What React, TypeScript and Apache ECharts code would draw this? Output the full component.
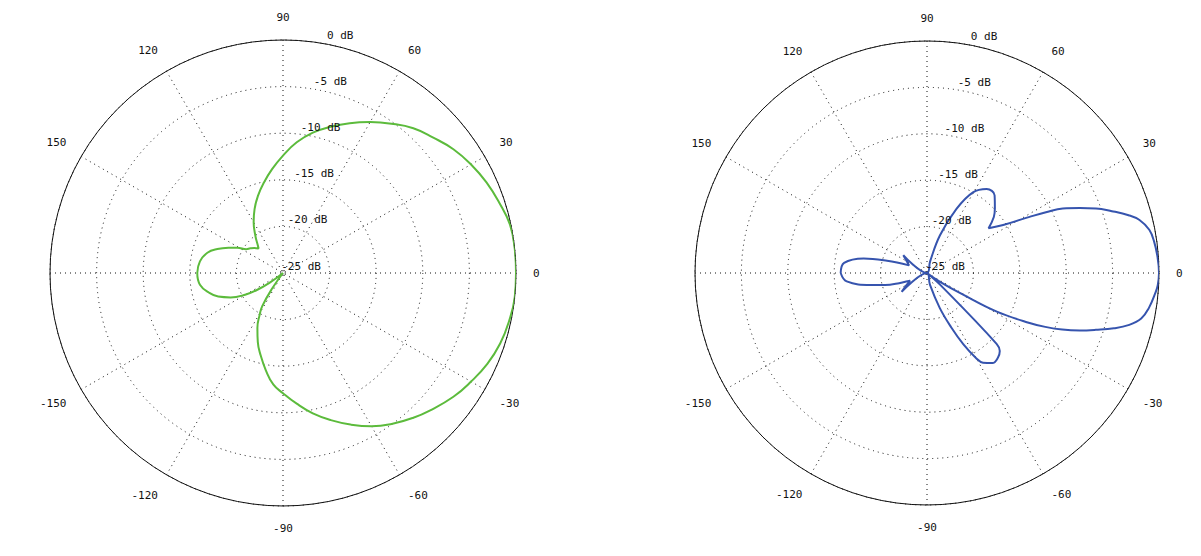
import React, { useEffect, useRef } from 'react';
import * as echarts from 'echarts';

// Radius rings (dB) and their labels
const ringValues = [-25, -20, -15, -10, -5, 0];
const ringLabels = ['-25 dB', '-20 dB', '-15 dB', '-10 dB', '-5 dB', '0 dB'];
const ringLabelAngle = 82;

// Left pattern (green): angle in degrees, gain in dB (clipped at -25)
const leftAngles = [
  -180, -172, -165, -160, -155, -150, -147, -144, -141, -135, -128, -125, -122, -119, -115, -110, -105, -100, -95, -90,
  -84, -78, -72, -66, -60, -54, -48, -43, -36, -30, -24, -18, -12, -6, 0,
  6, 12, 18, 24, 30, 36, 42, 48, 54, 60, 66, 72, 78, 84, 90,
  96, 102, 108, 114, 120, 127, 131, 135, 139, 143, 147, 151, 155, 160, 165, 172, 180,
];
const leftGain = [
  -15.8, -16.0, -16.8, -17.6, -18.8, -20.4, -21.6, -23.2, -25, -25, -25, -23.0, -20.8, -19.8, -18.5, -17.1, -15.8, -14.4, -13.0, -12.1,
  -10.9, -9.6, -8.4, -7.2, -6.0, -5.0, -4.1, -3.4, -2.4, -1.7, -1.0, -0.5, -0.2, 0, 0,
  0, -0.1, -0.6, -1.1, -1.7, -2.4, -3.3, -4.1, -5.2, -6.3, -7.4, -8.5, -9.6, -10.9, -12.4,
  -13.8, -15.1, -16.3, -17.5, -18.7, -20.1, -20.8, -21.3, -20.9, -20.6, -20.3, -19.4, -18.6, -17.5, -16.6, -16.0, -15.8,
];

// Right pattern (blue)
const rightAngles = [
  -180, -174, -168, -164, -160, -156, -150, -146, -143.5, -140, -130, -110, -90, -80, -76, -70, -66, -63, -60, -58,
  -54, -50, -47, -45.5, -42, -40, -37, -34, -31, -29, -26, -24.5, -22.7, -20.6, -18.6, -16.5, -14.4, -12, -9, -5, -3, 0,
  4, 8, 11, 14, 16, 18.5, 20.9, 23, 25.4, 27, 28.7, 32.2, 36, 40, 43.6, 49, 54.6, 60.3, 65.3, 71, 75, 80,
  100, 120, 140, 143, 150, 157, 163, 167, 173, 180,
];
const rightGain = [
  -15.7, -16.3, -18.8, -20.3, -21.8, -23.0, -22.5, -22.0, -21.6, -25, -25, -25, -25, -25, -23.7, -21.0, -18.6, -16.4, -14.4, -13.6,
  -13.0, -13.1, -13.5, -14.3, -23.0, -25, -25, -23.3, -20.4, -16.4, -12.7, -11.0, -9.2, -7.4, -5.8, -4.0, -2.5, -1.4, -0.8, -0.3, -0.1, 0,
  -0.1, -0.3, -0.6, -1.4, -2.4, -4.0, -5.5, -7.1, -8.8, -10.5, -12.4, -15.3, -16.8, -15.6, -14.9, -13.9, -13.9, -15.0, -17.4, -20.7, -23.7, -25,
  -25, -25, -25, -21.8, -22.5, -22.9, -20.5, -18.0, -16.0, -15.7,
];

const FONT = '"DejaVu Sans Mono", "Liberation Mono", monospace';
const TEXT = '#111';
const DOT = [1, 4];

function pairs(gain: number[], ang: number[]) {
  return gain.map((g, i) => [g, ang[i]]);
}

export default function App() {
  const ref = useRef<HTMLDivElement>(null);
  useEffect(() => {
    const chart = echarts.init(ref.current!, null, { renderer: 'svg' });
    const polars = [
      { center: [283, 273], radius: 233 },
      { center: [927, 273], radius: 232 },
    ];
    const angleAxis = polars.map((_, i) => ({
      polarIndex: i,
      type: 'value',
      min: -180,
      max: 180,
      interval: 30,
      startAngle: 180,
      clockwise: false,
      axisLine: { show: true, lineStyle: { color: '#111', width: 1 } },
      axisTick: { show: false },
      axisLabel: {
        margin: 17,
        color: TEXT,
        fontFamily: FONT,
        fontSize: 11,
        formatter: (v: number) => (v === -180 ? '' : String(v)),
      },
      splitLine: { show: true, lineStyle: { color: '#111', width: 1, type: DOT } },
    }));
    const radiusAxis = polars.map((_, i) => ({
      polarIndex: i,
      type: 'value',
      min: -25,
      max: 0,
      interval: 5,
      axisLine: { show: false },
      axisTick: { show: false },
      axisLabel: { show: false },
      splitLine: { show: true, lineStyle: { color: '#111', width: 1, type: DOT } },
    }));
    const labelSeries = polars.map((_, i) => ({
      type: 'scatter',
      coordinateSystem: 'polar',
      polarIndex: i,
      symbolSize: 0,
      silent: true,
      itemStyle: { color: 'rgba(0,0,0,0)', opacity: 0 },
      z: 10,
      data: ringValues.map((r, k) => ({
        value: [r, ringLabelAngle],
        label: { formatter: ringLabels[k] },
      })),
      label: {
        show: true,
        position: 'inside',
        align: 'right',
        verticalAlign: 'middle',
        offset: [38, -7],
        color: TEXT,
        fontFamily: FONT,
        fontSize: 11,
        opacity: 1,
      },
    }));
    chart.setOption({
      animation: false,
      backgroundColor: '#ffffff',
      polar: polars,
      angleAxis,
      radiusAxis,
      series: [
        {
          type: 'line',
          coordinateSystem: 'polar',
          polarIndex: 0,
          data: pairs(leftGain, leftAngles),
          showSymbol: false,
          symbol: 'none',
          smooth: 0.45,
          lineStyle: { color: '#5cbb3c', width: 2 },
          z: 5,
        },
        {
          type: 'line',
          coordinateSystem: 'polar',
          polarIndex: 1,
          data: pairs(rightGain, rightAngles),
          showSymbol: false,
          symbol: 'none',
          smooth: 0.4,
          lineStyle: { color: '#3654ae', width: 2 },
          z: 5,
        },
        ...labelSeries,
      ],
    });
    return () => chart.dispose();
  }, []);
  return (
    <div
      ref={ref}
      style={{ position: 'fixed', left: 0, top: 0, width: 1201, height: 556, background: '#fff' }}
    />
  );
}
